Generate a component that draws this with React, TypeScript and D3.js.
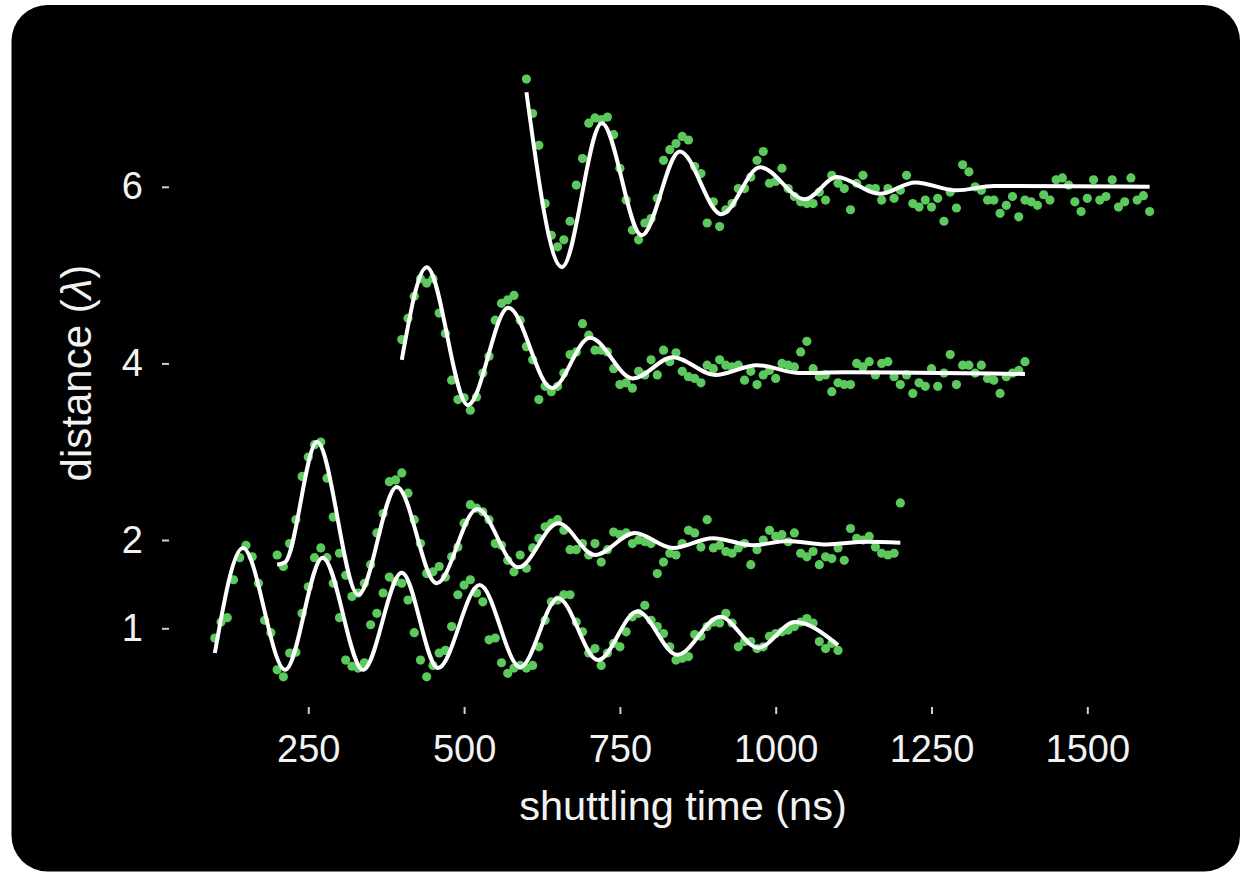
import React, { useEffect, useRef } from "react"
import * as d3 from "d3"

const width = 1243
const height = 872

// every run is sampled each 10 ns over 1000 ns
const sampleStep = 10
const runStarts = [100, 200, 400, 600]

const dist1 = [
    0.89, 1.07, 1.12, 1.55, 1.80, 1.94, 1.81, 1.51, 1.09, 0.95,
    0.53, 0.45, 0.72, 0.73, 1.17, 1.47, 1.80, 1.91, 1.80, 1.51,
    1.12, 0.64, 0.57, 0.55, 0.61, 1.04, 1.17, 1.40, 1.58, 1.53,
    1.51, 1.32, 0.95, 0.64, 0.45, 0.58, 0.72, 0.75, 1.02, 1.38,
    1.49, 1.55, 1.40, 1.30, 0.87, 0.89, 0.61, 0.49, 0.55, 0.58,
    0.55, 0.58, 0.79, 1.09, 1.30, 1.32, 1.38, 1.38, 1.07, 0.96,
    0.72, 0.77, 0.58, 0.72, 0.83, 0.79, 0.96, 1.13, 1.17, 1.26,
    1.09, 1.02, 0.94, 0.79, 0.64, 0.66, 0.68, 0.93, 0.91, 1.02,
    1.07, 1.06, 1.17, 1.06, 0.79, 0.85, 0.85, 0.77, 0.79, 0.91,
    0.94, 0.96, 0.98, 1.02, 1.07, 1.11, 1.06, 0.85, 0.77, 0.83,
    0.75
]
const dist2 = [
    1.83, 1.70, 1.96, 2.23, 2.72, 2.94, 3.08, 3.11, 2.70, 2.26,
    1.85, 1.60, 1.36, 1.40, 1.51, 1.72, 2.08, 2.30, 2.66, 2.68,
    2.76, 2.53, 2.23, 1.96, 1.62, 1.64, 1.70, 1.58, 1.81, 1.92,
    2.19, 2.40, 2.36, 2.32, 2.23, 1.96, 1.94, 1.77, 1.64, 1.83,
    1.68, 1.91, 2.02, 2.15, 2.19, 2.23, 2.11, 1.89, 1.89, 1.96,
    1.83, 1.96, 1.75, 1.89, 2.09, 2.06, 2.08, 1.96, 2.00, 1.98,
    1.96, 1.62, 1.75, 1.85, 1.83, 1.96, 2.11, 2.08, 1.92, 2.23,
    1.91, 1.94, 1.87, 1.85, 1.91, 1.96, 1.72, 1.89, 2.00, 2.11,
    2.04, 2.06, 1.98, 2.08, 1.85, 1.81, 1.87, 1.72, 1.81, 1.79,
    1.91, 1.77, 2.13, 2.02, 2.00, 2.04, 1.92, 1.85, 1.83, 1.85,
    2.42
]
const dist4 = [
    4.27, 4.51, 4.76, 4.96, 4.91, 4.96, 4.57, 4.34, 3.81, 3.59,
    3.61, 3.47, 3.62, 3.89, 4.08, 4.49, 4.68, 4.72, 4.77, 4.49,
    4.19, 4.04, 3.59, 3.74, 3.68, 3.74, 3.89, 4.10, 4.13, 4.45,
    4.32, 4.15, 4.15, 4.13, 3.94, 3.76, 3.78, 3.72, 3.91, 3.87,
    4.04, 3.87, 4.15, 4.02, 4.12, 3.91, 3.85, 3.83, 3.78, 3.98,
    3.94, 4.04, 3.98, 3.96, 3.98, 3.81, 3.91, 3.76, 3.87, 3.92,
    3.83, 4.00, 3.98, 3.96, 4.13, 4.25, 3.94, 3.85, 3.87, 3.68,
    3.78, 3.76, 3.76, 4.00, 3.96, 4.02, 3.87, 4.00, 4.02, 3.85,
    3.76, 3.87, 3.66, 3.78, 3.74, 3.94, 3.74, 3.89, 4.10, 3.76,
    3.98, 3.98, 3.89, 3.98, 3.83, 3.81, 3.66, 3.85, 3.89, 3.92,
    4.02
]
const dist6 = [
    7.22, 6.83, 6.47, 5.81, 5.45, 5.32, 5.40, 5.61, 6.02, 6.32,
    6.72, 6.78, 6.76, 6.79, 6.59, 6.21, 5.85, 5.51, 5.40, 5.59,
    5.64, 5.87, 6.30, 6.42, 6.49, 6.57, 6.53, 6.23, 6.15, 5.59,
    5.83, 5.55, 5.74, 5.81, 5.98, 5.98, 6.11, 6.30, 6.40, 6.04,
    6.06, 6.21, 5.98, 5.89, 5.83, 5.81, 5.81, 5.94, 5.85, 6.13,
    6.04, 5.98, 5.74, 6.04, 6.13, 5.98, 5.98, 5.85, 5.98, 5.87,
    5.96, 6.13, 5.81, 5.77, 5.85, 5.77, 5.87, 5.61, 5.94, 5.76,
    6.25, 6.17, 6.00, 5.96, 5.85, 5.85, 5.70, 5.79, 5.89, 5.66,
    5.85, 5.83, 5.79, 5.91, 5.85, 6.08, 6.10, 6.02, 5.83, 5.72,
    5.87, 6.08, 5.85, 5.89, 6.08, 5.77, 5.83, 6.10, 5.85, 5.90,
    5.72
]

const fit1Time = [100, 145, 213, 273, 338, 400, 458, 525, 590, 651, 715, 778, 842, 911, 972, 1031, 1100]
const fit1Dist = [0.72, 1.91, 0.53, 1.80, 0.53, 1.63, 0.55, 1.49, 0.56, 1.34, 0.64, 1.19, 0.70, 1.13, 0.78, 1.07, 0.81]
const fit2Time = [200, 213, 264, 330, 392, 456, 521, 587, 651, 710, 774, 835, 899, 964, 1018, 1082, 1146, 1200]
const fit2Dist = [1.72, 1.75, 3.11, 1.38, 2.60, 1.51, 2.35, 1.69, 2.19, 1.83, 2.08, 1.91, 2.02, 1.94, 1.99, 1.95, 1.98, 1.97]
const fit4Time = [400, 440, 506, 571, 641, 702, 771, 835, 903, 970, 1039, 1111, 1400]
const fit4Dist = [4.04, 5.09, 3.53, 4.63, 3.72, 4.29, 3.83, 4.07, 3.87, 3.98, 3.89, 3.90, 3.88]
const fit6Time = [600, 657, 721, 785, 846, 913, 975, 1047, 1098, 1167, 1224, 1290, 1350, 1600]
const fit6Dist = [7.07, 5.09, 6.72, 5.45, 6.40, 5.69, 6.22, 5.86, 6.11, 5.92, 6.05, 5.96, 6.01, 6.00]

const xTicks = [250, 500, 750, 1000, 1250, 1500]
const yTicks = [1, 2, 4, 6]

const pointColor = "#5cc95c"
const font = "\"Liberation Sans\", Arial, Helvetica, sans-serif"

export default function App() {
    const ref = useRef(null)

    useEffect(() => {
        const svg = d3.select(ref.current)
        svg.selectAll("*").remove()

        svg.append("rect").attr("width", width).attr("height", height).attr("fill", "#ffffff")
        svg.append("rect")
            .attr("x", 11.5)
            .attr("y", 5)
            .attr("width", 1228.5)
            .attr("height", 866.5)
            .attr("rx", 36)
            .attr("fill", "#000000")

        const x = d3.scaleLinear().domain([250, 1500]).range([308.3, 1087.3])
        const y = d3.scaleLinear().domain([1, 6]).range([628.3, 186.8])

        const runs = [
            { values: dist1, fitT: fit1Time, fitV: fit1Dist },
            { values: dist2, fitT: fit2Time, fitV: fit2Dist },
            { values: dist4, fitT: fit4Time, fitV: fit4Dist },
            { values: dist6, fitT: fit6Time, fitV: fit6Dist }
        ]

        // axes
        const styleAxis = g => {
            g.select(".domain").remove()
            g.selectAll(".tick line").attr("stroke", "#cfcfcf").attr("stroke-width", 2)
            g.selectAll(".tick text")
                .attr("fill", "#f2f2f2")
                .attr("font-size", 38)
                .attr("font-family", font)
        }
        svg.append("g")
            .attr("transform", "translate(169,0)")
            .call(d3.axisLeft(y).tickValues(yTicks).tickFormat(d3.format("d")).tickSize(7).tickPadding(19))
            .call(styleAxis)
        svg.append("g")
            .attr("transform", "translate(0,707)")
            .call(d3.axisBottom(x).tickValues(xTicks).tickFormat(d3.format("d")).tickSize(7).tickPadding(21))
            .call(styleAxis)

        svg.append("text")
            .attr("x", 683)
            .attr("y", 820)
            .attr("text-anchor", "middle")
            .attr("fill", "#f2f2f2")
            .attr("font-size", 41.5)
            .attr("font-family", font)
            .text("shuttling time (ns)")

        const yTitle = svg.append("text")
            .attr("transform", "translate(91,373) rotate(-90)")
            .attr("text-anchor", "middle")
            .attr("fill", "#f2f2f2")
            .attr("font-size", 42)
            .attr("font-family", font)
        yTitle.append("tspan").text("distance (")
        yTitle.append("tspan").attr("font-style", "italic").text("λ")
        yTitle.append("tspan").text(")")

        // measured points
        runs.forEach((run, r) => {
            const pts = run.values.map((v, i) => [runStarts[r] + i * sampleStep, v])
            svg.append("g")
                .selectAll("circle")
                .data(pts)
                .enter()
                .append("circle")
                .attr("cx", d => x(d[0]))
                .attr("cy", d => y(d[1]))
                .attr("r", 4.6)
                .attr("fill", pointColor)
        })

        // fits
        const line = d3.line()
            .x(d => x(d[0]))
            .y(d => y(d[1]))
            .curve(d3.curveMonotoneX)
        runs.forEach(run => {
            const pts = run.fitT.map((t, i) => [t, run.fitV[i]])
            svg.append("path")
                .attr("d", line(pts))
                .attr("fill", "none")
                .attr("stroke", "#ffffff")
                .attr("stroke-width", 4)
        })
    }, [])

    return (
        <svg
            ref={ref}
            width={width}
            height={height}
            style={{ position: "absolute", left: 0, top: 0, display: "block" }}
        />
    )
}
